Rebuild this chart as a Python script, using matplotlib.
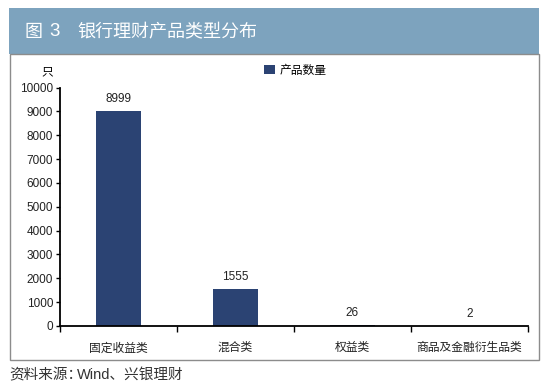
import matplotlib
matplotlib.use("Agg")
import matplotlib.pyplot as plt
from matplotlib.patches import Rectangle
import numpy as np

plt.rcParams['font.family'] = ['Noto Sans CJK SC', 'DejaVu Sans']
NUM = ['Liberation Sans', 'Noto Sans CJK SC']

categories = ['固定收益类', '混合类', '权益类', '商品及金融衍生品类']
values = [8999, 1555, 26, 2]
yticks = [0, 1000, 2000, 3000, 4000, 5000, 6000, 7000, 8000, 9000, 10000]

W, H = 550, 389
fig = plt.figure(figsize=(5.5, 3.89), dpi=100)

def fx(x): return x / W
def fy(y): return 1 - y / H

# banner
fig.patches.append(Rectangle((fx(9), fy(54)), fx(539) - fx(9), fy(8) - fy(54),
                             transform=fig.transFigure, facecolor='#7DA3BE', edgecolor='none', zorder=-2))
fig.text(fx(24), fy(32), '图', color='white', fontsize=13, va='center', ha='left')
fig.text(fx(49), fy(32), '3', color='white', fontsize=13.5, va='center', ha='left', family=NUM)
fig.text(fx(77), fy(32), '银行理财产品类型分布', color='white', fontsize=13, va='center', ha='left')
# box
fig.patches.append(Rectangle((fx(10), fy(360)), fx(539) - fx(10), fy(54) - fy(360),
                             transform=fig.transFigure, facecolor='white', edgecolor='#8C8C8C', lw=1.0, zorder=-2))
fig.text(fx(9), fy(375), '资料来源：', fontsize=10.5, color='#333333', va='center', ha='left')
fig.text(fx(77), fy(375), 'Wind、兴银理财', fontsize=10.5, color='#333333', va='center', ha='left',
         family=NUM)

ax = fig.add_axes([fx(60), fy(326), fx(528) - fx(60), fy(87.5) - fy(326)])
ax.set_facecolor('none')
x = np.arange(len(categories))
bars = ax.bar(x, values, width=0.39, color='#2B4373', label='产品数量')
for xi, v in zip(x, values):
    ax.text(xi, v + 520, str(v), ha='center', va='center', fontsize=8.5, color='#222222', family=NUM)
ax.set_xlim(-0.5, len(categories) - 0.5)
ax.set_ylim(0, 10000)
ax.set_yticks(yticks)
ax.set_yticklabels([str(t) for t in yticks], fontsize=8.5, color='#222222', family=NUM)
ax.set_xticks(np.arange(len(categories) + 1) - 0.5)
ax.set_xticklabels([])
ax.set_xticks(x, minor=True)
ax.set_xticklabels(categories, minor=True, fontsize=8.5, color='#222222')
ax.tick_params(axis='x', which='minor', length=0, pad=11)
ax.tick_params(axis='x', which='major', length=4, direction='out', width=1)
ax.tick_params(axis='y', length=3, direction='out', width=1, pad=2)
for s in ['top', 'right']:
    ax.spines[s].set_visible(False)
for s in ['left', 'bottom']:
    ax.spines[s].set_linewidth(1.3)
ax.text((47 - 60) / (528 - 60), (326 - 72) / (326 - 87.5), '只', transform=ax.transAxes,
        fontsize=8.5, ha='center', va='center')
leg = ax.legend(loc='center left', bbox_to_anchor=((258 - 60) / (528 - 60), (326 - 70) / (326 - 87.5)),
                frameon=False, fontsize=8.5, borderpad=0,
                handlelength=0.9, handleheight=0.9, handletextpad=0.45)

fig.savefig('out.png', dpi=100)
